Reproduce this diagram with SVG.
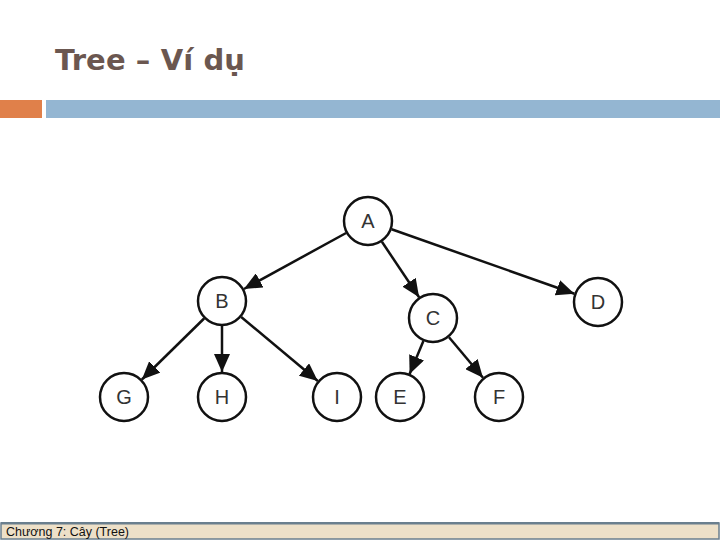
<svg xmlns="http://www.w3.org/2000/svg" width="720" height="540" viewBox="0 0 720 540">
<style>
.node circle{fill:#fff;stroke:#111;stroke-width:2.5}
.node text{font-family:"Liberation Sans",Arial,sans-serif;font-size:20px;fill:#333;text-anchor:middle}
.edge{stroke:#111;stroke-width:2.5;fill:none;marker-end:url(#arr)}
.title{font-family:"DejaVu Sans",Verdana,sans-serif;font-weight:bold;font-size:29px;fill:#6b5750}
.foot{font-family:"Liberation Sans",Arial,sans-serif;font-size:12px;fill:#111}
</style>
<defs>
<marker id="arr" markerUnits="userSpaceOnUse" markerWidth="19" markerHeight="16" refX="18" refY="8" orient="auto">
<path d="M0,0 L18,8 L0,16 z" fill="#111"/>
</marker>
</defs>
<rect width="720" height="540" fill="#fff"/>
<g id="header">
<text class="title" x="55" y="70" textLength="190">Tree – Ví dụ</text>
<rect x="0" y="100" width="42" height="18" fill="#e0804a"/>
<rect x="46" y="100" width="674" height="18" fill="#94b6d2"/>
</g>
<g id="connectors">
<line class="edge" x1="346.1" y1="233" x2="243.9" y2="289"/>
<line class="edge" x1="381.9" y1="241.8" x2="419.1" y2="297.2"/>
<line class="edge" x1="391.6" y1="229.3" x2="574.4" y2="293.7"/>
<line class="edge" x1="204.1" y1="318.5" x2="141.9" y2="379.5"/>
<line class="edge" x1="222" y1="326" x2="222" y2="372"/>
<line class="edge" x1="241.2" y1="317" x2="317.8" y2="381"/>
<line class="edge" x1="423.4" y1="341.1" x2="409.6" y2="373.9"/>
<line class="edge" x1="449" y1="337.2" x2="483" y2="377.8"/>
</g>
<g id="A" class="node"><circle cx="368" cy="221" r="24"/><text x="368" y="228">A</text></g>
<g id="B" class="node"><circle cx="222" cy="301" r="24"/><text x="222" y="308">B</text></g>
<g id="C" class="node"><circle cx="433" cy="318" r="24"/><text x="433" y="325">C</text></g>
<g id="D" class="node"><circle cx="598" cy="302" r="24"/><text x="598" y="309">D</text></g>
<g id="G" class="node"><circle cx="124" cy="397" r="24"/><text x="124" y="404">G</text></g>
<g id="H" class="node"><circle cx="222" cy="397" r="24"/><text x="222" y="404">H</text></g>
<g id="I" class="node"><circle cx="337" cy="397" r="24"/><text x="337" y="404">I</text></g>
<g id="E" class="node"><circle cx="400" cy="397" r="24"/><text x="400" y="404">E</text></g>
<g id="F" class="node"><circle cx="499" cy="397" r="24"/><text x="499" y="404">F</text></g>
<g id="footer">
<rect x="1" y="523" width="718" height="16" fill="#ede0c8" stroke="#6a7f8e" stroke-width="1.5"/>
<rect x="1" y="522" width="718" height="2.5" fill="#6a7f8e"/>
<text class="foot" x="6" y="535.5" textLength="123" lengthAdjust="spacingAndGlyphs">Chương 7: Cây (Tree)</text>
</g>
</svg>
